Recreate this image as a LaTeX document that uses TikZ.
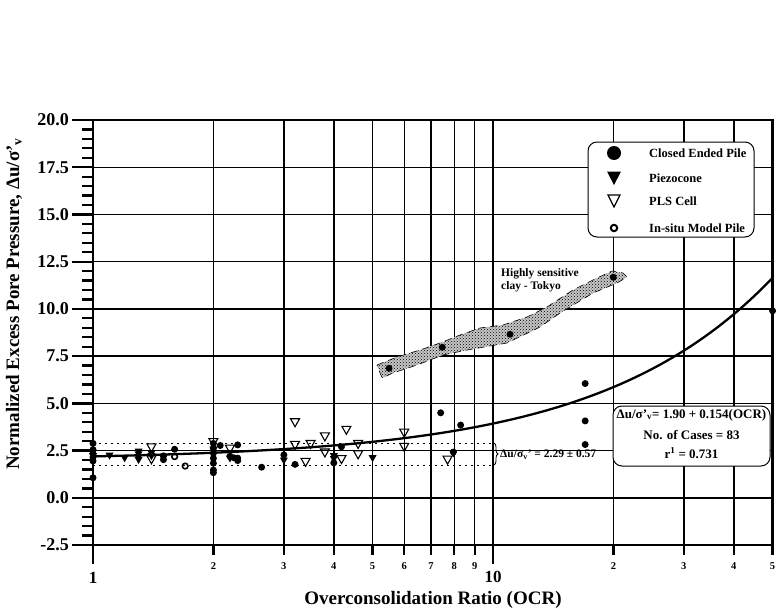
\documentclass[tikz,border=0pt]{standalone}
\usepackage{fontspec}
\setmainfont{Liberation Serif}
\usetikzlibrary{patterns,decorations.pathreplacing}
\begin{document}
\begin{tikzpicture}[x=1pt,y=-1pt,font=\bfseries,
  gridline/.style={line width=1.4pt},
  frameline/.style={line width=2.8pt},
  tickline/.style={line width=2.3pt},
  dotline/.style={line width=1.2pt,dash pattern=on 2pt off 4pt},
  fitcurve/.style={line width=2.3pt},
  boxstyle/.style={draw,line width=1pt,rounded corners=9pt,fill=white},
  ticklab/.style={inner sep=0pt,font=\fontsize{18}{20}\selectfont\bfseries},
  smalllab/.style={inner sep=0pt,font=\fontsize{10.5}{12}\selectfont\bfseries},
  biglab/.style={inner sep=0pt,font=\fontsize{17}{19}\selectfont\bfseries},
  titlelab/.style={inner sep=0pt,font=\fontsize{19}{22}\selectfont\bfseries},
  legtext/.style={inner sep=0pt,anchor=west,font=\fontsize{12.5}{14}\selectfont\bfseries},
  regtext/.style={inner sep=0pt,font=\fontsize{13}{15}\selectfont\bfseries},
  annot/.style={inner sep=0pt,font=\fontsize{11.5}{13}\selectfont\bfseries}]
\useasboundingbox (0,0) rectangle (776,610);
\fill[white] (0,0) rectangle (776,610);

% ---------- data scope: x = log10(OCR), y = du/sigma'v ----------
\begin{scope}[shift={(93,497.8)},x=400pt,y=18.89pt]
  % grid
  \foreach \v in {0,2.5,5,7.5,10,12.5,15,17.5}
    \draw[gridline] (0,\v) -- ({log10(50)},\v);
  \foreach \o in {2,3,4,5,6,7,8,9,10,20,30,40}
    \draw[gridline] ({log10(\o)},-2.5) -- ({log10(\o)},20);
  % band of +/- one std
  \draw[dotline] (0,2.86) -- (1,2.86);
  \draw[dotline] (0,1.72) -- (1,1.72);
  % fitted curve
  \draw[fitcurve] plot[domain=0:1.699,samples=90] (\x,{2.0+0.193*pow(10,\x)});
  % closed ended pile (filled circles)
  \foreach \a/\b in {1/2.88,1/2.55,1/2.35,1/2.15,1/1.95,1/1.06,1.5/2.22,1.5/2.02,1.6/2.57,
      2/2.88,2/2.62,2/2.36,2/2.09,2/1.83,2/1.47,2/1.33,2.08/2.77,2.2/2.2,2.25/2.12,
      2.3/2.8,2.3/2.1,2.3/1.97,2.64/1.62,3/2.27,3.2/1.77,4/1.85,4.18/2.7,7.4/4.5,
      7.96/2.42,8.3/3.85,17/6.05,17/4.07,17/2.82,50/9.9}
    \fill ({log10(\a)},\b) circle (3.5pt);
  % piezocone (filled triangles)
  \foreach \a/\b in {1/2.2,1.1/2.23,1.2/2.09,1.3/2.45,1.3/2.3,1.3/2.15,1.3/2.0,1.4/2.35,
      1.4/2.2,1.5/2.1,2/2.55,2.2/2.08,3/1.97,4/2.2,4/2.05,5/2.1,7.96/2.35}
    \fill ({log10(\a)},\b) ++(-4pt,3pt) -- ++(8pt,0pt) -- ++(-4pt,-7pt) -- cycle;
  % PLS cell (open triangles)
  \foreach \a/\b in {1.4/2.67,1.4/2.04,2/2.95,2.2/2.6,3.2/4.0,3.2/2.8,3.4/1.9,3.5/2.85,
      3.8/3.25,3.8/2.4,4.18/2.05,4.3/3.6,4.6/2.85,4.6/2.3,6/3.45,6/2.7,7.7/2.02}
    \draw[line width=1.1pt] ({log10(\a)},\b) ++(-4.5pt,3.5pt) -- ++(9pt,0pt) -- ++(-4.5pt,-8pt) -- cycle;
  % in-situ model pile (open circles)
  \foreach \a/\b in {1.6/2.18,1.7/1.68}
    \draw[line width=1.6pt] ({log10(\a)},\b) circle (2.8pt);
  % frame
  \draw[frameline] (0,-2.5) rectangle ({log10(50)},20);
  % y ticks
  \foreach \v in {-2.5,-2,...,20}
    \draw[tickline] (0,\v) -- ++(-11pt,0pt);
  \foreach \v in {-2.5,0,2.5,5,7.5,10,12.5,15,17.5,20}
    \draw[tickline] (0,\v) -- ++(-21pt,0pt);
  \foreach \v/\t [count=\i] in {20/20.0,17.5/17.5,15/15.0,12.5/12.5,10/10.0,7.5/7.5,5/5.0,2.5/2.5,0/0.0,-2.5/-2.5}
    \node[ticklab,anchor=east] (yl\i) at (0,\v) [xshift=-24pt] {\t};
  % x ticks
  \foreach \o in {2,3,4,5,6,7,8,9,20,30,40,50}
    \draw[tickline] ({log10(\o)},-2.5) -- ++(0pt,-10pt);
  \foreach \o in {1,10}
    \draw[tickline] ({log10(\o)},-2.5) -- ++(0pt,-19pt);
  \foreach \o/\t [count=\i] in {2/2,3/3,4/4,5/5,6/6,7/7,8/8,9/9,20/2,30/3,40/4,50/5}
    \node[smalllab] (xl\i) at ({log10(\o)},-2.5) [yshift=-21pt] {\t};
  \node[biglab] (xone) at (0,-2.5) [yshift=-33pt] {1};
  \node[biglab] (xten) at (1,-2.5) [yshift=-32pt] {10};
\end{scope}

% ---------- annotations in pixel coordinates ----------
% Tokyo band
\path[fill=black!22]
  (377,365) -- (397,357) -- (420,350) -- (440,343) -- (460,335) -- (480,328) -- (503,325)
  -- (527,317) -- (547,307) -- (573,290) -- (593,280) -- (612,271) -- (623,273) -- (627,277)
  -- (617,283) -- (593,293) -- (560,313) -- (540,327) -- (507,343) -- (467,350) -- (443,355)
  -- (417,365) -- (393,373) -- (382,378) -- cycle;
\path[pattern=crosshatch dots,pattern color=black]
  (377,365) -- (397,357) -- (420,350) -- (440,343) -- (460,335) -- (480,328) -- (503,325)
  -- (527,317) -- (547,307) -- (573,290) -- (593,280) -- (612,271) -- (623,273) -- (627,277)
  -- (617,283) -- (593,293) -- (560,313) -- (540,327) -- (507,343) -- (467,350) -- (443,355)
  -- (417,365) -- (393,373) -- (382,378) -- cycle;
\draw[line width=0.6pt,dash pattern=on 7pt off 5pt]
  (377,365) -- (397,357) -- (420,350) -- (440,343) -- (460,335) -- (480,328) -- (503,325)
  -- (527,317) -- (547,307) -- (573,290) -- (593,280) -- (612,271) -- (623,273) -- (627,277)
  -- (617,283) -- (593,293) -- (560,313) -- (540,327) -- (507,343) -- (467,350) -- (443,355)
  -- (417,365) -- (393,373) -- (382,378) -- cycle;
\fill (389,368.3) circle (3.5pt);
\fill (442.3,347.3) circle (3.5pt);
\fill (510,334.3) circle (3.5pt);
\fill (613.3,277.3) circle (3.5pt);
\node[annot,anchor=north west,align=left] (tokyo) at (501,268) {Highly sensitive\\clay - Tokyo};

% brace
\coordinate (btop) at (494,443);
\coordinate (bbot) at (494,465);
\draw[line width=0.8pt,decorate,decoration={brace,amplitude=4pt}] (btop) -- (bbot);
\node[annot,anchor=west] (bracelab) at (500,455) {Δu/σ\textsubscript{v}' = 2.29 ± 0.57};

% legend
\node[boxstyle,minimum width=166pt,minimum height=95pt] (legend) at (671,189.5) {};
\fill (614,153) circle (7pt);
\fill (607,171.5) -- (621,171.5) -- (614,185) -- cycle;
\draw[line width=1.3pt] (608,195) -- (620,195) -- (614,207) -- cycle;
\draw[line width=2pt] (614,228) circle (3.2pt);
\node[legtext] (lg1) at (649,153) {Closed Ended Pile};
\node[legtext] (lg2) at (649,178) {Piezocone};
\node[legtext] (lg3) at (649,201) {PLS Cell};
\node[legtext] (lg4) at (649,228) {In-situ Model Pile};

% regression box
\node[boxstyle,minimum width=157pt,minimum height=60pt] (regbox) at (691.5,436) {};
\node[regtext] (rg1) at (691.5,415) {Δu/σ'\textsubscript{v}= 1.90 + 0.154(OCR)};
\node[regtext] (rg2) at (691.5,435) {No. of Cases = 83};
\node[regtext] (rg3) at (691.5,453) {r\textsuperscript{1} = 0.731};

% axis titles
\node[titlelab] (xtitle) at (433,600) {Overconsolidation Ratio (OCR)};
\node[titlelab,rotate=90] (ytitle) at (14,304) {Normalized Excess Pore Pressure, Δu/σ'\textsubscript{v}};
\end{tikzpicture}
\end{document}
